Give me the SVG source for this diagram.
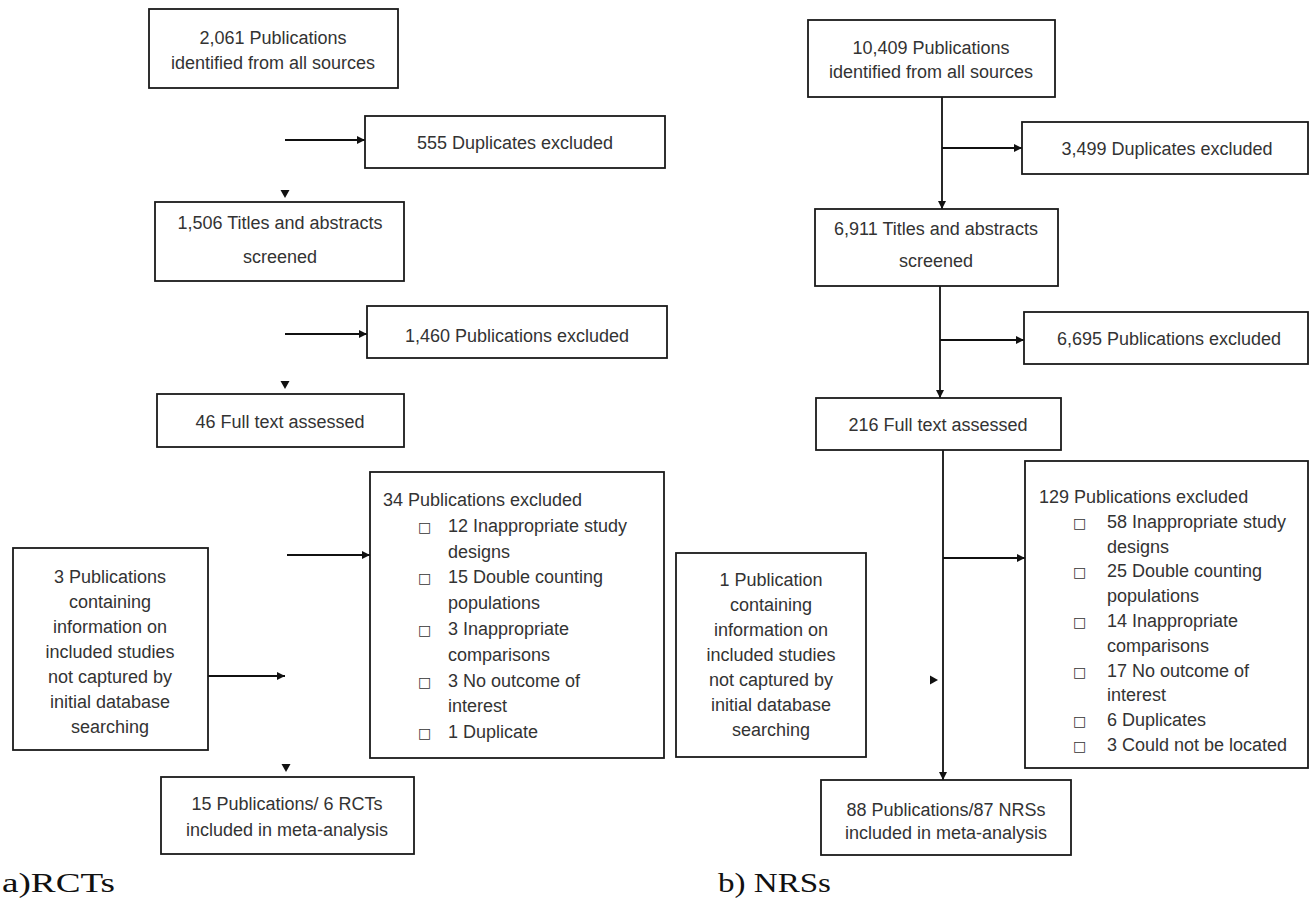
<svg xmlns="http://www.w3.org/2000/svg" width="1310" height="898" viewBox="0 0 1310 898">
<style>
.box{fill:#fff;stroke:#1a1a1a;stroke-width:1.8}
.t{font-family:"Liberation Sans",Arial,sans-serif;font-size:18px;fill:#333}
.c{text-anchor:middle}
.b{font-family:"DejaVu Sans",sans-serif;font-size:14px;fill:#333}
.cap{font-family:"Liberation Serif","Times New Roman",serif;font-size:28px;fill:#111}
.ln{fill:none;stroke:#111;stroke-width:1.8}
.ah{fill:#111}
</style>
<defs>
<marker id="arr" markerUnits="userSpaceOnUse" markerWidth="9" markerHeight="9" refX="8" refY="4.5" orient="auto">
<path d="M0,0.5 L8,4.5 L0,8.5 z" fill="#111"/>
</marker>
<path id="ahDown" d="M-4.5,-8 L4.5,-8 L0,0 z"/>
<path id="ahRight" d="M-8,-4.5 L0,0 L-8,4.5 z"/>
</defs>
<rect width="1310" height="898" fill="#fff"/>

<g id="connectors">
<line class="ln" x1="285" y1="140" x2="365" y2="140" marker-end="url(#arr)"/>
<use href="#ahDown" class="ah" x="285" y="198"/>
<line class="ln" x1="285" y1="334" x2="367" y2="334" marker-end="url(#arr)"/>
<use href="#ahDown" class="ah" x="285" y="389"/>
<line class="ln" x1="287" y1="555" x2="370" y2="555" marker-end="url(#arr)"/>
<line class="ln" x1="208" y1="676" x2="285" y2="676" marker-end="url(#arr)"/>
<use href="#ahDown" class="ah" x="286" y="772"/>

<line class="ln" x1="942" y1="97" x2="942" y2="209" marker-end="url(#arr)"/>
<line class="ln" x1="942" y1="148" x2="1022" y2="148" marker-end="url(#arr)"/>
<line class="ln" x1="940" y1="286" x2="940" y2="398" marker-end="url(#arr)"/>
<line class="ln" x1="940" y1="340" x2="1024" y2="340" marker-end="url(#arr)"/>
<line class="ln" x1="943" y1="450" x2="943" y2="780" marker-end="url(#arr)"/>
<line class="ln" x1="943" y1="558" x2="1025" y2="558" marker-end="url(#arr)"/>
<use href="#ahRight" class="ah" x="938" y="680"/>
</g>

<g id="rct-identified">
<rect class="box" x="149" y="9" width="249" height="79"/>
<text class="t c" x="273" y="44">2,061 Publications</text>
<text class="t c" x="273" y="69">identified from all sources</text>
</g>
<g id="rct-duplicates">
<rect class="box" x="365" y="116" width="300" height="52"/>
<text class="t c" x="515" y="149">555 Duplicates excluded</text>
</g>
<g id="rct-screened">
<rect class="box" x="155" y="202" width="249" height="79"/>
<text class="t c" x="280" y="229">1,506 Titles and abstracts</text>
<text class="t c" x="280" y="263">screened</text>
</g>
<g id="rct-excluded1">
<rect class="box" x="367" y="306" width="300" height="52"/>
<text class="t c" x="517" y="342">1,460 Publications excluded</text>
</g>
<g id="rct-fulltext">
<rect class="box" x="157" y="394" width="247" height="53"/>
<text class="t c" x="280" y="428">46 Full text assessed</text>
</g>
<g id="rct-excluded2">
<rect class="box" x="370" y="472" width="294" height="286"/>
<text class="t" x="383" y="506">34 Publications excluded</text>
<text class="b" x="418" y="532">□</text><text class="t" x="448" y="532">12 Inappropriate study</text>
<text class="t" x="448" y="558">designs</text>
<text class="b" x="418" y="583">□</text><text class="t" x="448" y="583">15 Double counting</text>
<text class="t" x="448" y="609">populations</text>
<text class="b" x="418" y="635">□</text><text class="t" x="448" y="635">3 Inappropriate</text>
<text class="t" x="448" y="661">comparisons</text>
<text class="b" x="418" y="687">□</text><text class="t" x="448" y="687">3 No outcome of</text>
<text class="t" x="448" y="712">interest</text>
<text class="b" x="418" y="738">□</text><text class="t" x="448" y="738">1 Duplicate</text>
</g>
<g id="rct-additional">
<rect class="box" x="13" y="548" width="195" height="202"/>
<text class="t c" x="110" y="583">3 Publications</text>
<text class="t c" x="110" y="608">containing</text>
<text class="t c" x="110" y="633">information on</text>
<text class="t c" x="110" y="658">included studies</text>
<text class="t c" x="110" y="683">not captured by</text>
<text class="t c" x="110" y="708">initial database</text>
<text class="t c" x="110" y="733">searching</text>
</g>
<g id="rct-included">
<rect class="box" x="161" y="777" width="253" height="77"/>
<text class="t c" x="287" y="810">15 Publications/ 6 RCTs</text>
<text class="t c" x="287" y="836">included in meta-analysis</text>
</g>
<g id="label-a">
<text class="cap" x="2" y="892" textLength="113" lengthAdjust="spacingAndGlyphs">a)RCTs</text>
</g>

<g id="nrs-identified">
<rect class="box" x="808" y="20" width="247" height="77"/>
<text class="t c" x="931" y="54">10,409 Publications</text>
<text class="t c" x="931" y="78">identified from all sources</text>
</g>
<g id="nrs-duplicates">
<rect class="box" x="1022" y="122" width="286" height="52"/>
<text class="t c" x="1167" y="155">3,499 Duplicates excluded</text>
</g>
<g id="nrs-screened">
<rect class="box" x="815" y="209" width="243" height="77"/>
<text class="t c" x="936" y="235">6,911 Titles and abstracts</text>
<text class="t c" x="936" y="267">screened</text>
</g>
<g id="nrs-excluded1">
<rect class="box" x="1024" y="312" width="284" height="52"/>
<text class="t c" x="1169" y="345">6,695 Publications excluded</text>
</g>
<g id="nrs-fulltext">
<rect class="box" x="816" y="398" width="245" height="52"/>
<text class="t c" x="938" y="431">216 Full text assessed</text>
</g>
<g id="nrs-excluded2">
<rect class="box" x="1025" y="461" width="283" height="307"/>
<text class="t" x="1039" y="503">129 Publications excluded</text>
<text class="b" x="1073" y="528">□</text><text class="t" x="1107" y="528">58 Inappropriate study</text>
<text class="t" x="1107" y="553">designs</text>
<text class="b" x="1073" y="577">□</text><text class="t" x="1107" y="577">25 Double counting</text>
<text class="t" x="1107" y="602">populations</text>
<text class="b" x="1073" y="627">□</text><text class="t" x="1107" y="627">14 Inappropriate</text>
<text class="t" x="1107" y="652">comparisons</text>
<text class="b" x="1073" y="677">□</text><text class="t" x="1107" y="677">17 No outcome of</text>
<text class="t" x="1107" y="701">interest</text>
<text class="b" x="1073" y="726">□</text><text class="t" x="1107" y="726">6 Duplicates</text>
<text class="b" x="1073" y="751">□</text><text class="t" x="1107" y="751">3 Could not be located</text>
</g>
<g id="nrs-additional">
<rect class="box" x="676" y="553" width="190" height="204"/>
<text class="t c" x="771" y="586">1 Publication</text>
<text class="t c" x="771" y="611">containing</text>
<text class="t c" x="771" y="636">information on</text>
<text class="t c" x="771" y="661">included studies</text>
<text class="t c" x="771" y="686">not captured by</text>
<text class="t c" x="771" y="711">initial database</text>
<text class="t c" x="771" y="736">searching</text>
</g>
<g id="nrs-included">
<rect class="box" x="821" y="780" width="250" height="75"/>
<text class="t c" x="946" y="816">88 Publications/87 NRSs</text>
<text class="t c" x="946" y="839">included in meta-analysis</text>
</g>
<g id="label-b">
<text class="cap" x="718" y="892" textLength="113" lengthAdjust="spacingAndGlyphs">b) NRSs</text>
</g>
</svg>
